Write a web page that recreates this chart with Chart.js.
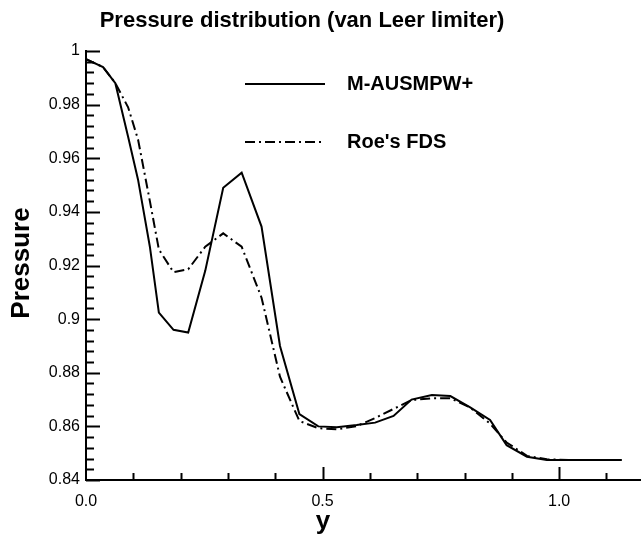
<!DOCTYPE html>
<html>
<head>
<meta charset="utf-8">
<script src="https://cdn.jsdelivr.net/npm/chart.js@4.4.1/dist/chart.umd.min.js"></script>
<style>
  html, body { margin: 0; padding: 0; background: #fff; }
</style>
</head>
<body>
<canvas id="chart" width="641" height="548"></canvas>
<script>
// pressure along y
const FONT = "'Liberation Sans', Arial, Helvetica, sans-serif";

const chartTitle = 'Pressure distribution (van Leer limiter)';
const xAxisTitle = 'y';
const yAxisTitle = 'Pressure';
const seriesNames = ['M-AUSMPW+', "Roe's FDS"];

const ausmY = [0, 0.036, 0.062, 0.089, 0.11, 0.135, 0.154, 0.185, 0.216, 0.252, 0.29, 0.329, 0.371, 0.41,
  0.451, 0.491, 0.53, 0.572, 0.611, 0.65, 0.688, 0.731, 0.77, 0.812, 0.854, 0.889, 0.932, 0.974, 1.02, 1.06, 1.1, 1.132];
const ausmP = [0.997, 0.994, 0.988, 0.968, 0.952, 0.927, 0.9024, 0.896, 0.895, 0.918, 0.949, 0.9546, 0.9345, 0.89,
  0.8646, 0.860, 0.8597, 0.8605, 0.8614, 0.8639, 0.870, 0.8717, 0.8713, 0.8671, 0.8624, 0.853, 0.8487, 0.8475, 0.8475, 0.8475, 0.8475, 0.8475];

const roeY = [0, 0.036, 0.062, 0.089, 0.11, 0.135, 0.154, 0.185, 0.216, 0.252, 0.29, 0.329, 0.371, 0.41,
  0.451, 0.491, 0.53, 0.572, 0.611, 0.65, 0.688, 0.731, 0.77, 0.812, 0.854, 0.889, 0.932, 0.974, 1.02, 1.06, 1.1, 1.132];
const roeP = [0.997, 0.994, 0.988, 0.979, 0.967, 0.944, 0.926, 0.9175, 0.9186, 0.927, 0.932, 0.927, 0.908, 0.8785,
  0.862, 0.8593, 0.8589, 0.8601, 0.8631, 0.8665, 0.8698, 0.8705, 0.8705, 0.867, 0.861, 0.854, 0.849, 0.8477, 0.8475, 0.8475, 0.8475, 0.8475];

const xTicks = [0, 0.5, 1.0];
const xTickLabels = ['0.0', '0.5', '1.0'];
const yTicks = [0.84, 0.86, 0.88, 0.9, 0.92, 0.94, 0.96, 0.98, 1];
const yTickLabels = ['0.84', '0.86', '0.88', '0.9', '0.92', '0.94', '0.96', '0.98', '1'];

function toPoints(xs, ys) {
  return xs.map((x, i) => ({ x: x, y: ys[i] }));
}

// ticks point inward, legend sits inside the plot, titles placed by hand
const decorPlugin = {
  id: 'decor',
  afterDraw(chart) {
    const ctx = chart.ctx;
    const xs = chart.scales.x;
    const ys = chart.scales.y;
    const area = chart.chartArea;
    ctx.save();
    ctx.strokeStyle = '#000';
    ctx.lineWidth = 2;

    // y ticks: major every 0.02, minor every 0.004
    for (let k = 0; k <= 40; k++) {
      const v = 0.84 + k * 0.004;
      const py = Math.round(ys.getPixelForValue(v)) + 0.5;
      const len = k % 5 === 0 ? 14 : 8;
      ctx.beginPath();
      ctx.moveTo(area.left, py);
      ctx.lineTo(area.left + len, py);
      ctx.stroke();
    }
    // x ticks: major every 0.5, minor every 0.1
    for (let k = 1; k <= 11; k++) {
      const px = Math.round(xs.getPixelForValue(k * 0.1)) + 0.5;
      const len = k % 5 === 0 ? 13 : 7;
      ctx.beginPath();
      ctx.moveTo(px, area.bottom);
      ctx.lineTo(px, area.bottom - len);
      ctx.stroke();
    }

    // legend
    chart.data.datasets.forEach((ds, i) => {
      const ly = 84 + i * 58;
      ctx.save();
      ctx.lineWidth = ds.borderWidth;
      ctx.setLineDash(ds.borderDash || []);
      ctx.beginPath();
      ctx.moveTo(245, ly);
      ctx.lineTo(325, ly);
      ctx.stroke();
      ctx.restore();
      ctx.fillStyle = '#000';
      ctx.font = 'bold 20px ' + FONT;
      ctx.textAlign = 'left';
      ctx.textBaseline = 'middle';
      ctx.fillText(ds.label, 347, ly);
    });

    // titles
    ctx.fillStyle = '#000';
    ctx.textAlign = 'center';
    ctx.textBaseline = 'middle';
    ctx.font = 'bold 22px ' + FONT;
    ctx.fillText(chartTitle, 302, 21);

    ctx.font = 'bold 26px ' + FONT;
    ctx.fillText(xAxisTitle, 323, 522);

    ctx.save();
    ctx.translate(22, 263);
    ctx.rotate(-Math.PI / 2);
    ctx.fillText(yAxisTitle, 0, 0);
    ctx.restore();

    ctx.restore();
  }
};

new Chart(document.getElementById('chart'), {
  type: 'line',
  data: {
    datasets: [
      {
        label: seriesNames[0],
        data: toPoints(ausmY, ausmP),
        borderColor: '#000',
        borderWidth: 2,
        pointRadius: 0,
        tension: 0,
        fill: false
      },
      {
        label: seriesNames[1],
        data: toPoints(roeY, roeP),
        borderColor: '#000',
        borderWidth: 2,
        borderDash: [10, 4, 2, 4],
        pointRadius: 0,
        tension: 0,
        fill: false
      }
    ]
  },
  options: {
    responsive: false,
    animation: false,
    layout: { padding: { top: 51, right: 0, bottom: 0, left: 0 } },
    plugins: {
      legend: { display: false },
      title: { display: false },
      tooltip: { enabled: false }
    },
    scales: {
      x: {
        type: 'linear',
        min: 0,
        max: 1.173,
        grid: { display: false, drawTicks: false },
        border: { display: true, color: '#000', width: 2 },
        afterBuildTicks: scale => { scale.ticks = xTicks.map(v => ({ value: v })); },
        afterFit: scale => { scale.height = 68; },
        ticks: {
          color: '#000',
          padding: 12,
          font: { family: FONT, size: 16 },
          callback: (v, i) => xTickLabels[i]
        }
      },
      y: {
        type: 'linear',
        min: 0.84,
        max: 1,
        grid: { display: false, drawTicks: false },
        border: { display: true, color: '#000', width: 2 },
        afterBuildTicks: scale => { scale.ticks = yTicks.map(v => ({ value: v })); },
        afterFit: scale => { scale.width = 86; },
        ticks: {
          color: '#000',
          padding: 6,
          font: { family: FONT, size: 16 },
          callback: (v, i) => yTickLabels[i]
        }
      }
    }
  },
  plugins: [decorPlugin]
});
</script>
</body>
</html>
